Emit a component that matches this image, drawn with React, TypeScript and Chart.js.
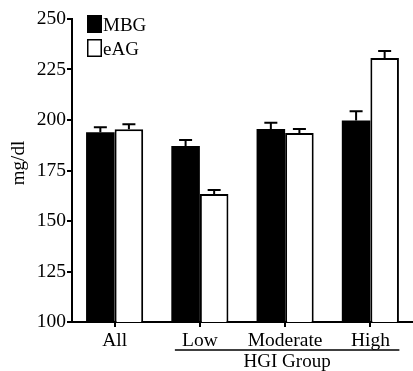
import React, { useEffect, useRef } from "react";
import { Chart, registerables } from "chart.js";

Chart.register(...registerables);

const categories = ["All", "Low", "Moderate", "High"];
const mbgValues = [193.9, 187.1, 195.5, 199.7];
const mbgErrors = [2.5, 3.0, 3.2, 4.6];
const eagValues = [195.4, 163.4, 193.6, 230.7];
const eagErrors = [2.5, 2.0, 2.0, 3.5];
const yTicks = [100, 125, 150, 175, 200, 225, 250];
const groupLabel = "HGI Group";
const yTitle = "mg/dl";

const FONT = "'Liberation Serif', 'Times New Roman', serif";

const errorBarPlugin = {
  id: "errorBars",
  afterDatasetsDraw(chart: any) {
    const ctx = chart.ctx;
    const yScale = chart.scales.y;
    const errs = [mbgErrors, eagErrors];
    chart.data.datasets.forEach((ds: any, di: number) => {
      const meta = chart.getDatasetMeta(di);
      meta.data.forEach((bar: any, i: number) => {
        const v = ds.data[i];
        const top = yScale.getPixelForValue(v + errs[di][i]);
        const base = yScale.getPixelForValue(v);
        ctx.save();
        ctx.strokeStyle = "#000";
        ctx.lineWidth = 2;
        ctx.beginPath();
        ctx.moveTo(bar.x, base);
        ctx.lineTo(bar.x, top);
        ctx.moveTo(bar.x - 6.5, top);
        ctx.lineTo(bar.x + 6.5, top);
        ctx.stroke();
        ctx.restore();
      });
    });
  },
};

const decorPlugin = {
  id: "decor",
  afterDraw(chart: any) {
    const ctx = chart.ctx;
    const x = chart.scales.x;
    ctx.save();
    const items = chart.data.datasets;
    items.forEach((ds: any, i: number) => {
      const bx = 87;
      const by = 15 + i * 24;
      ctx.fillStyle = ds.backgroundColor;
      ctx.fillRect(bx, by, 15, 18);
      ctx.strokeStyle = "#000";
      ctx.lineWidth = 1.5;
      ctx.strokeRect(bx + 0.75, by + 0.75, 13.5, 16.5);
      ctx.fillStyle = "#000";
      ctx.font = `19px ${FONT}`;
      ctx.textAlign = "left";
      ctx.textBaseline = "alphabetic";
      ctx.fillText(ds.label, bx + 16, by + 16);
    });
    const x1 = x.getPixelForValue(1) - 25;
    const x2 = x.getPixelForValue(3) + 29;
    ctx.strokeStyle = "#000";
    ctx.lineWidth = 1.5;
    ctx.beginPath();
    ctx.moveTo(x1, 350);
    ctx.lineTo(x2, 350);
    ctx.stroke();
    ctx.fillStyle = "#000";
    ctx.font = `19px ${FONT}`;
    ctx.textAlign = "center";
    ctx.textBaseline = "middle";
    ctx.fillText(groupLabel, (x1 + x2) / 2, 362);
    ctx.translate(19, 163);
    ctx.rotate(-Math.PI / 2);
    ctx.fillText(yTitle, 0, 0);
    ctx.restore();
  },
};

export default function App() {
  const ref = useRef<HTMLCanvasElement>(null);
  useEffect(() => {
    document.body.style.margin = "0";
    const chart = new Chart(ref.current!, {
      type: "bar",
      data: {
        labels: categories,
        datasets: [
          {
            label: "MBG",
            data: mbgValues,
            backgroundColor: "#000",
            borderWidth: 0,
            barPercentage: 1,
            categoryPercentage: 0.67,
          },
          {
            label: "eAG",
            data: eagValues,
            backgroundColor: "#fff",
            borderColor: "#000",
            borderWidth: 2,
            borderSkipped: "bottom",
            barPercentage: 1,
            categoryPercentage: 0.67,
          },
        ],
      },
      options: {
        animation: false,
        responsive: false,
        maintainAspectRatio: false,
        layout: { padding: { top: 19, left: 0, right: 0, bottom: 0 } },
        plugins: { legend: { display: false }, tooltip: { enabled: false } },
        scales: {
          x: {
            offset: true,
            grid: {
              display: true,
              offset: false,
              drawOnChartArea: false,
              drawTicks: true,
              tickLength: 5,
              color: "#000",
              lineWidth: 2,
            },
            border: { display: true, color: "#000", width: 2 },
            ticks: {
              color: "#000",
              font: { family: FONT, size: 19.5 },
              padding: 2,
              maxRotation: 0,
            },
            afterFit(scale: any) {
              scale.height = 49;
            },
          },
          y: {
            min: 100,
            max: 250,
            afterBuildTicks(scale: any) {
              scale.ticks = yTicks.map((v) => ({ value: v }));
            },
            grid: {
              display: true,
              drawOnChartArea: false,
              drawTicks: true,
              tickLength: 5,
              color: "#000",
              lineWidth: 2,
            },
            border: { display: true, color: "#000", width: 2 },
            ticks: {
              color: "#000",
              font: { family: FONT, size: 19.5 },
              padding: 1,
            },
            afterFit(scale: any) {
              scale.width = 72;
            },
          },
        },
      },
      plugins: [errorBarPlugin, decorPlugin],
    });
    return () => chart.destroy();
  }, []);
  return <canvas ref={ref} width={413} height={371} style={{ display: "block" }} />;
}
